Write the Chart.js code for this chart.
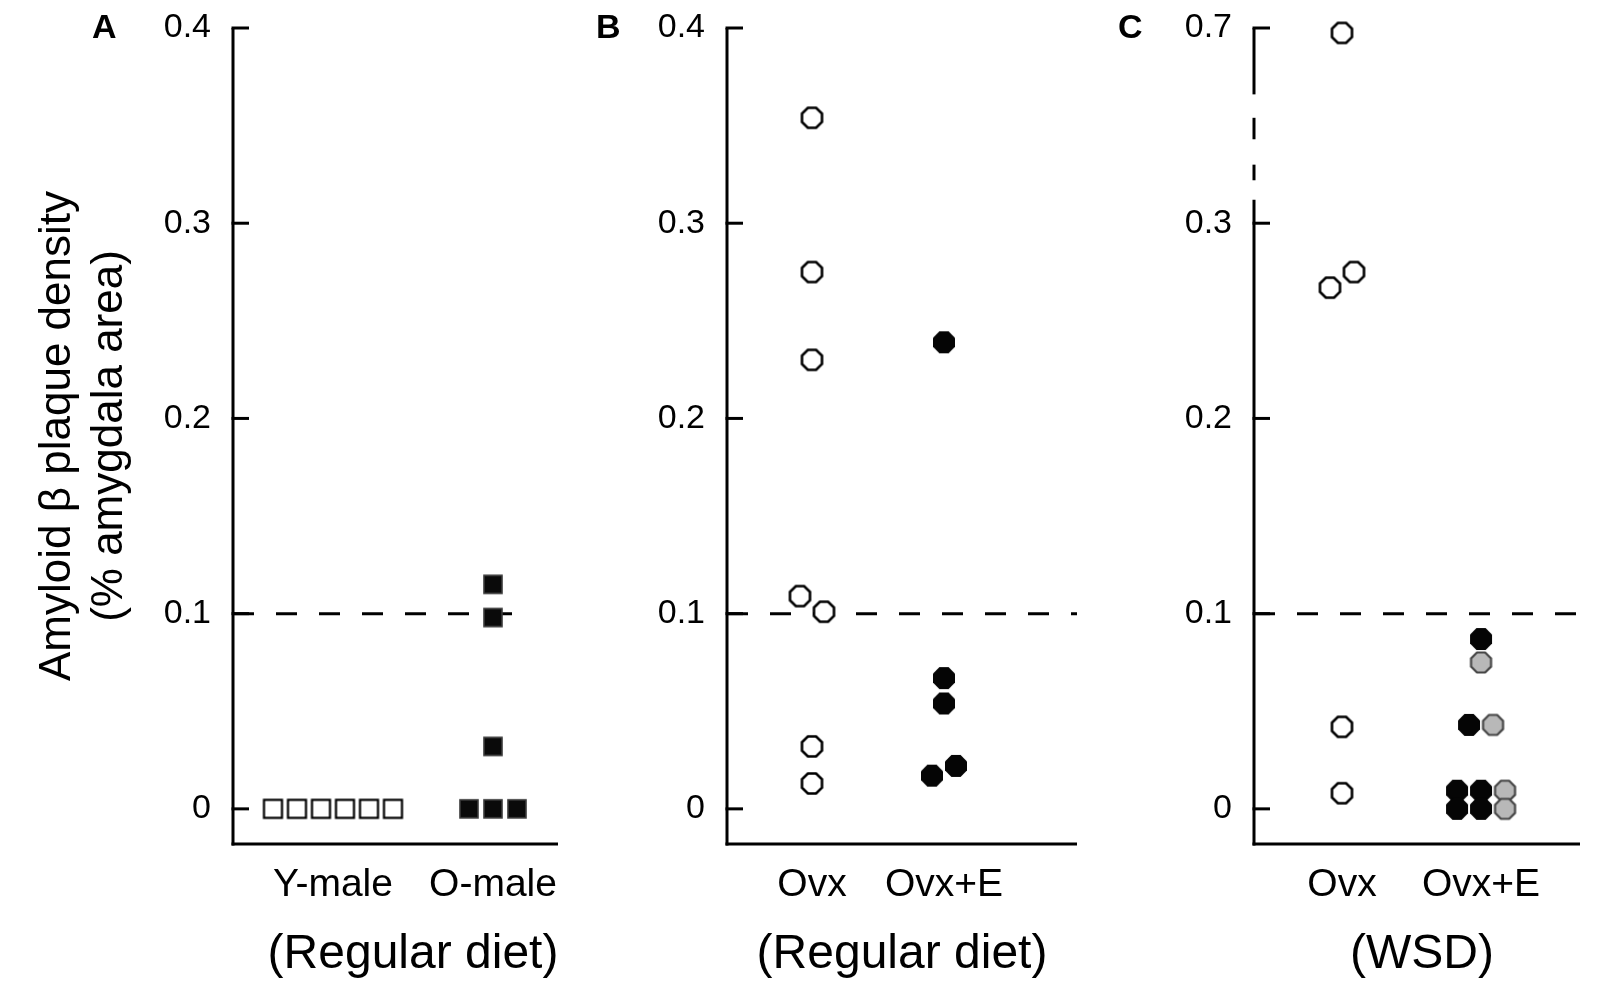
<!DOCTYPE html>
<html>
<head>
<meta charset="utf-8">
<script src="https://cdn.jsdelivr.net/npm/chart.js@4.4.0/dist/chart.umd.min.js"></script>
<style>
  html, body { margin: 0; padding: 0; background: #fff; width: 1605px; height: 982px; overflow: hidden; }
  canvas { position: absolute; top: 0; }
  .lbl { position: absolute; font: bold 34px "Liberation Sans", Arial, sans-serif; line-height: 34px; color: #000; }
</style>
</head>
<body>
<canvas id="cA" width="630" height="982" style="left:0px"></canvas>
<canvas id="cB" width="540" height="982" style="left:570px"></canvas>
<canvas id="cC" width="495" height="982" style="left:1110px"></canvas>
<div class="lbl" style="left:92px;top:9px">A</div>
<div class="lbl" style="left:596px;top:9px">B</div>
<div class="lbl" style="left:1118px;top:9px">C</div>
<script>
// ---------------- DATA ----------------
const yTitleLines = ['Amyloid β plaque density', '(% amygdala area)'];
const yTicksAB = [0, 0.1, 0.2, 0.3, 0.4];
const yTicksC = [0, 0.1, 0.2, 0.3, 0.7];
const threshold = 0.1;

const catsA = ['Y-male', 'O-male'];
const titleA = '(Regular diet)';
const yMale = [0, 0, 0, 0, 0, 0];
const oMale = [0.115, 0.098, 0.032, 0, 0, 0];

const catsB = ['Ovx', 'Ovx+E'];
const titleB = '(Regular diet)';
const ovxB = [0.354, 0.275, 0.230, 0.109, 0.101, 0.032, 0.013];
const ovxEB = [0.239, 0.067, 0.054, 0.017, 0.022];

const catsC = ['Ovx', 'Ovx+E'];
const titleC = '(WSD)';
const ovxC = [0.69, 0.267, 0.275, 0.042, 0.008];
const ovxEC_black = [0.087, 0.043, 0.0093, 0.0093, 0, 0];
const ovxEC_gray = [0.075, 0.043, 0.0093, 0];

// axis break for panel C (0.3 -> 0.7 compressed)
const breakLow = 0.3, breakHigh = 0.7, breakTop = 0.4;
function mapC(v) { return v <= breakLow ? v : breakLow + (v - breakLow) * (breakTop - breakLow) / (breakHigh - breakLow); }
const ident = v => v;

// ---------------- HELPERS ----------------
const FONT = '"Liberation Sans", Arial, sans-serif';
const PITCH_PX = 24;      // horizontal spacing of dodged markers
const DODGE_TOL = 0.0085; // values closer than this are placed side by side

// spread points with (nearly) equal values side by side around the category center
// (within a cluster: by series, then in list order)
function dodge(groups, center, pitch, mapY) {
  const pts = [];
  groups.forEach((vals, g) => vals.forEach((v, i) => pts.push({ g, i, v })));
  const sorted = pts.slice().sort((a, b) => a.v - b.v);
  const clusters = [];
  sorted.forEach(p => {
    const c = clusters[clusters.length - 1];
    if (c && p.v - c[c.length - 1].v <= DODGE_TOL) c.push(p); else clusters.push([p]);
  });
  clusters.forEach(c => {
    c.sort((a, b) => a.g - b.g || a.i - b.i);
    c.forEach((p, k) => { p.x = center + (k - (c.length - 1) / 2) * pitch; });
  });
  return groups.map((vals, g) => pts.filter(p => p.g === g).map(p => ({ x: p.x, y: mapY(p.v) })));
}

function octagon(d, fill, stroke, lw) {
  const size = Math.ceil(d + lw + 2);
  const c = document.createElement('canvas'); c.width = c.height = size;
  const g = c.getContext('2d');
  const R = (d / 2) / Math.cos(Math.PI / 8);
  g.beginPath();
  for (let k = 0; k < 8; k++) {
    const a = Math.PI / 8 + k * Math.PI / 4;
    const px = size / 2 + R * Math.cos(a), py = size / 2 + R * Math.sin(a);
    if (k) g.lineTo(px, py); else g.moveTo(px, py);
  }
  g.closePath();
  g.fillStyle = fill; g.fill();
  if (lw) { g.lineWidth = lw; g.strokeStyle = stroke; g.stroke(); }
  return c;
}
function square(s, fill, stroke, lw) {
  const size = Math.ceil(s + lw + 2);
  const c = document.createElement('canvas'); c.width = c.height = size;
  const g = c.getContext('2d');
  const o = (size - s) / 2;
  g.fillStyle = fill; g.fillRect(o, o, s, s);
  if (lw) { g.lineWidth = lw; g.strokeStyle = stroke; g.strokeRect(o, o, s, s); }
  return c;
}

const mkOpenOct = octagon(20, '#ffffff', '#000000', 2.6);
const mkBlackOct = octagon(22, '#050505', '#000000', 0);
const mkGrayOct = octagon(20, '#b8b8b8', '#454545', 2.2);
const mkOpenSq = square(18, '#ffffff', '#000000', 2.2);
const mkBlackSq = square(18, '#0a0a0a', '#3a3a3a', 1.6);

const framePlugin = {
  id: 'frame',
  beforeDatasetsDraw(chart, args, opts) {
    const { ctx, chartArea: a, scales: { x, y } } = chart;
    const right = a.right - (opts.insetRight || 0);
    ctx.save();
    ctx.strokeStyle = '#000'; ctx.lineWidth = 3; ctx.lineCap = 'butt';
    // threshold dashed line
    const ty = y.getPixelForValue(opts.threshold);
    ctx.setLineDash([21, 22]);
    ctx.beginPath(); ctx.moveTo(a.left, ty); ctx.lineTo(right - (opts.dashInset || 0), ty); ctx.stroke();
    ctx.setLineDash([]);
    // y axis (possibly broken)
    const segs = opts.axisSegments || [[y.max, y.min]];
    segs.forEach(([v1, v2]) => {
      ctx.beginPath();
      ctx.moveTo(a.left, y.getPixelForValue(v1));
      ctx.lineTo(a.left, v2 === y.min ? a.bottom + 1.5 : y.getPixelForValue(v2));
      ctx.stroke();
    });
    // x axis
    ctx.beginPath(); ctx.moveTo(a.left - 1.5, a.bottom); ctx.lineTo(right, a.bottom); ctx.stroke();
    // inward ticks
    y.ticks.forEach(t => {
      const py = y.getPixelForValue(t.value);
      ctx.beginPath(); ctx.moveTo(a.left - 1.5, py); ctx.lineTo(a.left + 16, py); ctx.stroke();
    });
    ctx.restore();
  }
};

function panel(id, cfg) {
  return new Chart(document.getElementById(id), {
    type: 'scatter',
    data: { datasets: cfg.datasets },
    options: {
      responsive: false, animation: false, events: [],
      layout: { padding: { top: 28, right: cfg.padRight, bottom: 0, left: 0 } },
      plugins: {
        legend: { display: false }, tooltip: { enabled: false },
        frame: { threshold: cfg.mapY(threshold), axisSegments: cfg.axisSegments,
                 insetRight: cfg.insetRight || 0, dashInset: cfg.dashInset || 0 }
      },
      scales: {
        x: {
          type: 'linear', min: cfg.xMin, max: cfg.xMax,
          afterBuildTicks: s => { s.ticks = cfg.cats.map((c, i) => ({ value: i + 1 })); },
          ticks: { callback: (v, i) => cfg.cats[i], font: { family: FONT, size: 39 }, color: '#000', padding: 18, maxRotation: 0, autoSkip: false },
          grid: { display: false, drawTicks: false, tickLength: 0 },
          border: { display: false },
          title: { display: true, text: cfg.title, font: { family: FONT, size: 48, lineHeight: 1 }, color: '#000', padding: { top: 0, bottom: 3 } },
          afterFit: s => { s.height = 982 - 844; s.paddingLeft = 0; s.paddingRight = 0; }
        },
        y: {
          type: 'linear', min: -0.018, max: 0.4,
          afterBuildTicks: s => { s.ticks = cfg.yTicks.map(v => ({ value: cfg.mapY(v) })); },
          ticks: { callback: (v, i) => String(cfg.yTicks[i]), font: { family: FONT, size: 34 }, color: '#000', padding: 22, autoSkip: false },
          grid: { display: false, drawTicks: false, tickLength: 0 },
          border: { display: false },
          title: cfg.yTitle
            ? { display: true, text: cfg.yTitle, font: { family: FONT, size: 44, lineHeight: 1.2 }, color: '#000', padding: { top: 31, bottom: 0 } }
            : { display: false },
          afterFit: s => { s.width = cfg.yWidth; s.paddingTop = 0; s.paddingBottom = 0; }
        }
      }
    },
    plugins: [framePlugin]
  });
}

function ds(points, img) {
  return { data: points, pointStyle: img, pointRadius: 11, showLine: false, clip: false };
}

// ---------------- PANEL A ----------------
{
  const ppu = 160;
  const [pY] = dodge([yMale], 1, PITCH_PX / ppu, ident);
  const [pO] = dodge([oMale], 2, PITCH_PX / ppu, ident);
  panel('cA', {
    cats: catsA, title: titleA, yTicks: yTicksAB, mapY: ident, yTitle: yTitleLines,
    yWidth: 233, padRight: 37, insetRight: 35, dashInset: 25, xMin: 0.375, xMax: 2.625,
    datasets: [ds(pY, mkOpenSq), ds(pO, mkBlackSq)]
  });
}
// ---------------- PANEL B ----------------
{
  const ppu = 132;
  const [p1] = dodge([ovxB], 1, PITCH_PX / ppu, ident);
  const [p2] = dodge([ovxEB], 2, PITCH_PX / ppu, ident);
  panel('cB', {
    cats: catsB, title: titleB, yTicks: yTicksAB, mapY: ident,
    yWidth: 157, padRight: 33, xMin: 0.356, xMax: 3.008,
    datasets: [ds(p1, mkOpenOct), ds(p2, mkBlackOct)]
  });
}
// ---------------- PANEL C ----------------
{
  const ppu = 139;
  const [p1] = dodge([ovxC], 1, PITCH_PX / ppu, mapC);
  const [p2, p3] = dodge([ovxEC_black, ovxEC_gray], 2, PITCH_PX / ppu, mapC);
  panel('cC', {
    cats: catsC, title: titleC, yTicks: yTicksC, mapY: mapC,
    yWidth: 144, padRight: 15, insetRight: 10, xMin: 0.367, xMax: 2.784,
    axisSegments: [[0.4, 0.366], [0.354, 0.343], [0.330, 0.322], [0.312, -0.018]],
    datasets: [ds(p1, mkOpenOct), ds(p2, mkBlackOct), ds(p3, mkGrayOct)]
  });
}
</script>
</body>
</html>
